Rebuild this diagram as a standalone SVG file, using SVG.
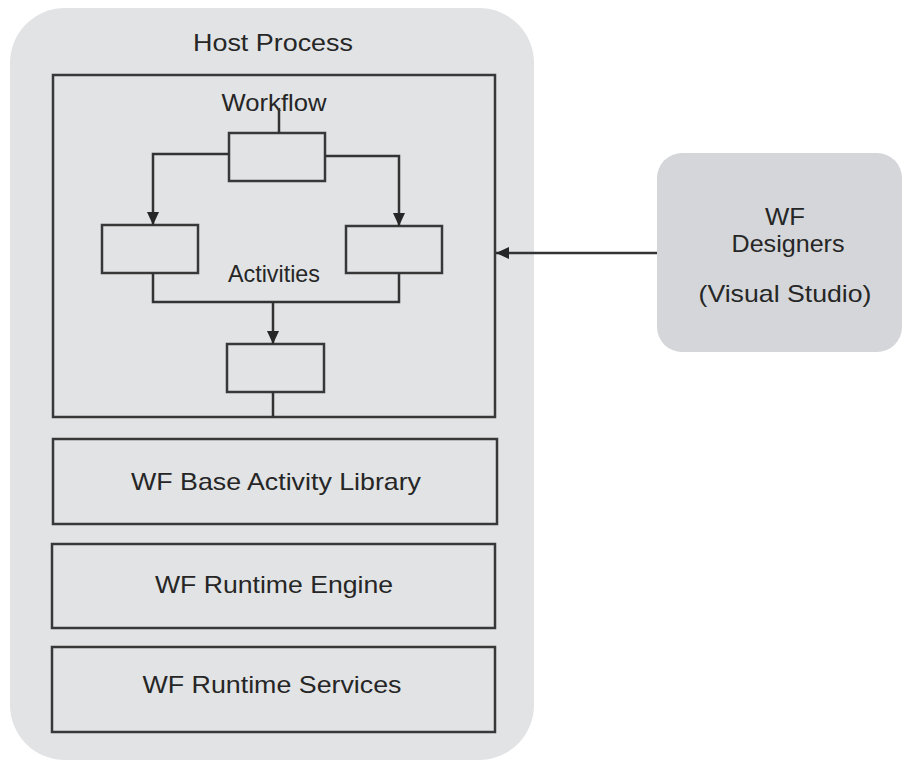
<svg xmlns="http://www.w3.org/2000/svg" width="904" height="764" viewBox="0 0 904 764">
  <defs>
    <marker id="arrow" markerUnits="userSpaceOnUse" markerWidth="14" markerHeight="14" viewBox="0 0 14 14" refX="13" refY="7" orient="auto">
      <path d="M0,1 L13,7 L0,13 Z" fill="#262626"/>
    </marker>
  </defs>
  <style>
    .line { fill: none; stroke: #333; stroke-width: 2.5; }
    .box { fill: none; stroke: #383838; stroke-width: 2.5; }
    .label { font-family: "Liberation Sans", Arial, sans-serif; font-size: 24px; fill: #262626; text-anchor: middle; }
  </style>
  <rect width="904" height="764" fill="#ffffff"/>

  <!-- Host process container -->
  <g id="host-process">
    <rect x="10" y="8" width="524" height="752" rx="55" ry="55" fill="#e1e3e5"/>
    <text class="label" x="273" y="51" textLength="160" lengthAdjust="spacingAndGlyphs">Host Process</text>
  </g>

  <!-- Workflow area -->
  <g id="workflow">
    <rect class="box" x="53" y="75" width="442" height="342"/>
    <text class="label" x="274" y="111" textLength="105" lengthAdjust="spacingAndGlyphs">Workflow</text>
  </g>

  <g id="activity-top">
    <rect class="box" x="229" y="133" width="96" height="48"/>
  </g>
  <g id="activity-left">
    <rect class="box" x="102" y="225" width="96" height="48"/>
  </g>
  <g id="activity-right">
    <rect class="box" x="346" y="226" width="96" height="47"/>
  </g>
  <g id="activity-bottom">
    <rect class="box" x="227" y="344" width="97" height="48"/>
  </g>
  <g id="activities-label">
    <text class="label" x="274" y="282" font-size="22" textLength="92" lengthAdjust="spacingAndGlyphs">Activities</text>
  </g>

  <!-- Layers below the workflow -->
  <g id="base-activity-library">
    <rect class="box" x="53" y="439" width="444" height="85"/>
    <text class="label" x="276" y="490" textLength="290" lengthAdjust="spacingAndGlyphs">WF Base Activity Library</text>
  </g>
  <g id="runtime-engine">
    <rect class="box" x="52" y="544" width="443" height="84"/>
    <text class="label" x="274" y="593" textLength="238" lengthAdjust="spacingAndGlyphs">WF Runtime Engine</text>
  </g>
  <g id="runtime-services">
    <rect class="box" x="52" y="647" width="443" height="85"/>
    <text class="label" x="272" y="693" textLength="259" lengthAdjust="spacingAndGlyphs">WF Runtime Services</text>
  </g>

  <!-- Designer tooling -->
  <g id="wf-designers">
    <rect x="657" y="153" width="245" height="199" rx="25" ry="25" fill="#d4d6d9"/>
    <text class="label" x="785" y="225" font-size="21" textLength="40" lengthAdjust="spacingAndGlyphs">WF</text>
    <text class="label" x="788" y="252" font-size="21" textLength="113" lengthAdjust="spacingAndGlyphs">Designers</text>
    <text class="label" x="785" y="302" textLength="173" lengthAdjust="spacingAndGlyphs">(Visual Studio)</text>
  </g>

  <!-- Connectors -->
  <g id="connectors">
    <path class="line" d="M279,108 V133"/>
    <path class="line" d="M229,154 H153 V225" marker-end="url(#arrow)"/>
    <path class="line" d="M325,156 H399 V226" marker-end="url(#arrow)"/>
    <path class="line" d="M153,273 V302 H399 V273"/>
    <path class="line" d="M273,302 V344" marker-end="url(#arrow)"/>
    <path class="line" d="M273,392 V417"/>
    <path class="line" d="M657,253 H496" marker-end="url(#arrow)"/>
  </g>
</svg>
